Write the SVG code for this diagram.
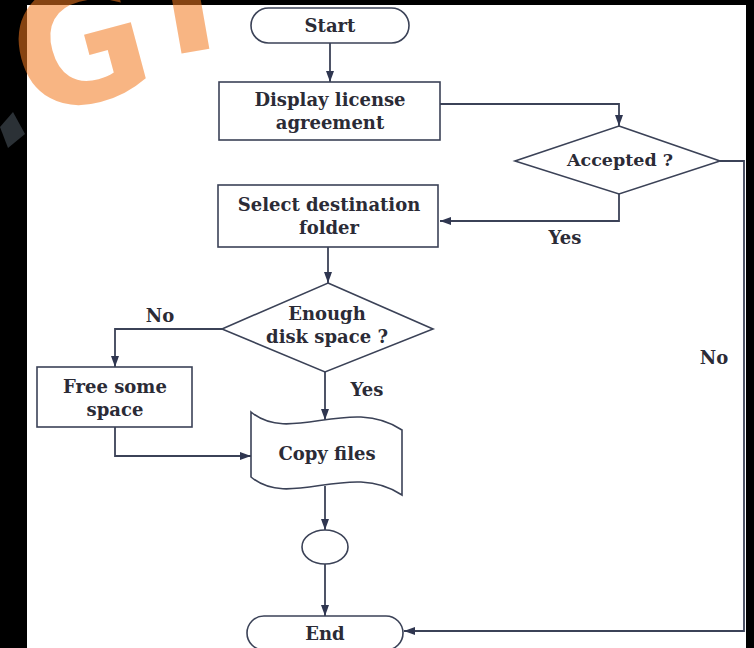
<svg xmlns="http://www.w3.org/2000/svg" width="754" height="648" viewBox="0 0 754 648">
  <style>
    .shape { fill: #ffffff; stroke: #3b4257; stroke-width: 1.6; }
    .conn { fill: none; stroke: #3b4257; stroke-width: 1.8; }
    .lbl { font-family: "DejaVu Serif", "Liberation Serif", serif; font-weight: bold; font-size: 18px; fill: #2b2b36; text-anchor: middle; }
    .mid { font-size: 17.5px; }
    .mark { font-family: "DejaVu Sans", sans-serif; font-weight: bold; fill: #f47a1f; }
  </style>
  <defs>
    <marker id="arrow" markerUnits="userSpaceOnUse" markerWidth="11" markerHeight="8" refX="11" refY="4" orient="auto">
      <path d="M0,0 L11,4 L0,8 z" fill="#2f3650"/>
    </marker>
  </defs>

  <!-- page background and dark frame -->
  <rect x="0" y="0" width="754" height="648" fill="#ffffff"/>
  <rect x="0" y="0" width="27" height="648" fill="#000000"/>
  <rect x="0" y="0" width="754" height="5" fill="#000000"/>
  <rect x="746" y="0" width="8" height="648" fill="#000000"/>

  <!-- translucent logo mark over the top-left corner -->
  <g id="logo-mark" opacity="0.55">
    <text class="mark" x="8" y="100" font-size="165" transform="rotate(-15 90 30)">G</text>
    <text class="mark" x="0" y="0" font-size="150" transform="translate(168 56) rotate(-10) scale(1 1.4)">F</text>
  </g>
  <polygon points="13,112 25,134 8,148 0,127" fill="#2b3136"/>

  <!-- connectors -->
  <g id="connectors">
    <path class="conn" d="M330,43 L330,82" marker-end="url(#arrow)"/>
    <path class="conn" d="M440,104 L619,104 L619,126" marker-end="url(#arrow)"/>
    <path class="conn" d="M619,194 L619,221 L440,221" marker-end="url(#arrow)"/>
    <path class="conn" d="M720,161 L744,161 L744,631 L404,631" marker-end="url(#arrow)"/>
    <path class="conn" d="M328,247 L328,283" marker-end="url(#arrow)"/>
    <path class="conn" d="M222,329 L115,329 L115,367" marker-end="url(#arrow)"/>
    <path class="conn" d="M325,372 L325,420" marker-end="url(#arrow)"/>
    <path class="conn" d="M115,427 L115,456 L251,456" marker-end="url(#arrow)"/>
    <path class="conn" d="M325,486 L325,530" marker-end="url(#arrow)"/>
    <path class="conn" d="M325,564 L325,616" marker-end="url(#arrow)"/>
    <text class="lbl" x="565" y="244">Yes</text>
    <text class="lbl" x="160" y="322">No</text>
    <text class="lbl" x="367" y="396">Yes</text>
    <text class="lbl" x="714" y="364">No</text>
  </g>

  <g id="start">
    <rect class="shape" x="251" y="8" width="158" height="35" rx="17.5"/>
    <text class="lbl" x="330" y="32">Start</text>
  </g>

  <g id="display-license">
    <rect class="shape" x="219" y="82" width="221" height="58"/>
    <text class="lbl" x="330" y="106">Display license</text>
    <text class="lbl" x="330" y="129">agreement</text>
  </g>

  <g id="accepted">
    <polygon class="shape" points="619,126 720,161 619,194 515,161"/>
    <text class="lbl mid" x="620" y="166">Accepted ?</text>
  </g>

  <g id="select-folder">
    <rect class="shape" x="218" y="185" width="220" height="62"/>
    <text class="lbl" x="329" y="211">Select destination</text>
    <text class="lbl" x="329" y="234">folder</text>
  </g>

  <g id="enough-space">
    <polygon class="shape" points="328,283 433,329 325,372 222,329"/>
    <text class="lbl" x="327" y="320">Enough</text>
    <text class="lbl" x="327" y="343">disk space ?</text>
  </g>

  <g id="free-space">
    <rect class="shape" x="37" y="367" width="155" height="60"/>
    <text class="lbl" x="115" y="393">Free some</text>
    <text class="lbl" x="115" y="416">space</text>
  </g>

  <g id="copy-files">
    <path class="shape" d="M251,412 C290,445 350,395 402,430 L402,495 C350,460 290,510 251,477 Z"/>
    <text class="lbl" x="327" y="460">Copy files</text>
  </g>

  <g id="connector-point">
    <ellipse class="shape" cx="325" cy="547" rx="23" ry="17"/>
  </g>

  <g id="end">
    <rect class="shape" x="247" y="616" width="156" height="34" rx="17"/>
    <text class="lbl" x="325" y="640">End</text>
  </g>
</svg>
